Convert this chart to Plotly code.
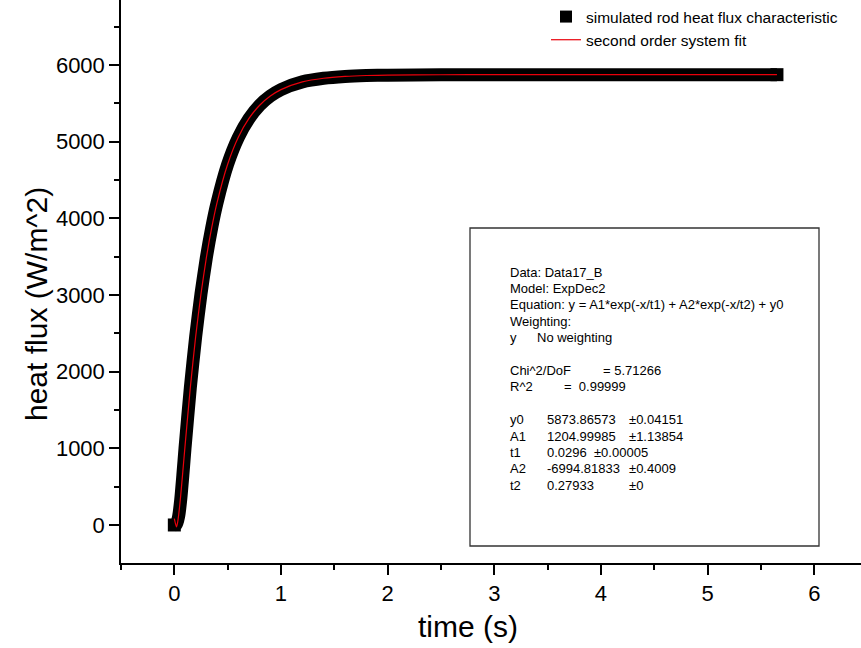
import plotly.graph_objects as go

# ---- data ----
time_s = [0.0, 0.02, 0.04, 0.06, 0.08, 0.10, 0.15, 0.20, 0.25, 0.30, 0.35, 0.40,
          0.50, 0.60, 0.70, 0.80, 0.90, 1.00, 1.20, 1.40, 1.60, 1.80, 2.00,
          2.50, 3.00, 4.00, 5.00, 5.65]
heat_flux = [0, 10, 110, 330, 650, 1000, 1790, 2455, 3015, 3485, 3875, 4200,
             4705, 5055, 5300, 5475, 5595, 5680, 5780, 5827, 5851, 5863, 5868,
             5873, 5874, 5874, 5874, 5874]

fit_time = [0.0, 0.02, 0.03, 0.04, 0.05, 0.06, 0.08, 0.10, 0.15, 0.20, 0.25, 0.30,
            0.35, 0.40, 0.50, 0.60, 0.70, 0.80, 0.90, 1.00, 1.20, 1.40, 1.60,
            1.80, 2.00, 2.50, 3.00, 4.00, 5.00, 5.65]
fit_flux = [84, -25, 28, 124, 247, 390, 702, 1025, 1793, 2457, 3016, 3484,
            3875, 4203, 4706, 5058, 5303, 5475, 5595, 5679, 5779, 5827, 5851,
            5863, 5868, 5873, 5874, 5874, 5874, 5874]

x_ticks = [0, 1, 2, 3, 4, 5, 6]
y_ticks = [0, 1000, 2000, 3000, 4000, 5000, 6000]

data_name = "simulated rod heat flux characteristic"
fit_name = "second order system fit"
x_title = "time (s)"
y_title = "heat flux (W/m^2)"

# fit report text rows
report_rows = [
    ["Data: Data17_B"],
    ["Model: ExpDec2"],
    ["Equation: y = A1*exp(-x/t1) + A2*exp(-x/t2) + y0"],
    ["Weighting:"],
    ["y", "No weighting"],
    ["Chi^2/DoF", "= 5.71266"],
    ["R^2", "=  0.99999"],
    ["y0", "5873.86573", "±0.04151"],
    ["A1", "1204.99985", "±1.13854"],
    ["t1", "0.0296  ±0.00005"],
    ["A2", "-6994.81833", "±0.4009"],
    ["t2", "0.27933", "±0"],
]
report_line = [0, 1, 2, 3, 4, 6, 7, 9, 10, 11, 12, 13]

FONT = "Liberation Sans, Arial, sans-serif"

W, H = 861, 648
ML, MR, MT, MB = 121, 0, 0, 85
PW, PH = W - ML - MR, H - MT - MB


def px_x(p):
    return (p - ML) / PW


def px_y(p):
    return (H - MB - p) / PH


fig = go.Figure()

# simulated data: thick black band of square points
n = len(time_s)
fig.add_trace(go.Scatter(
    x=time_s, y=heat_flux, mode="lines",
    line=dict(color="black", width=13, shape="spline", smoothing=0.6),
    showlegend=False, hoverinfo="skip",
))
fig.add_trace(go.Scatter(
    x=time_s, y=heat_flux, mode="markers",
    marker=dict(symbol="square", color="black", opacity=1,
                line=dict(width=0, color="black"),
                size=[13] + [8] * (n - 2) + [13]),
    showlegend=False, hoverinfo="skip",
))
# legend entry for the simulated data
fig.add_trace(go.Scatter(
    x=[None], y=[None], mode="markers", name=data_name,
    marker=dict(symbol="square", size=12, color="black", line=dict(width=0)),
))
fig.add_trace(go.Scatter(
    x=fit_time, y=fit_flux, mode="lines", name=fit_name,
    line=dict(color="#e8000b", width=1.2, shape="spline", smoothing=0.6),
))

# fit report box
fig.add_shape(type="rect", xref="paper", yref="paper",
              x0=px_x(470), x1=px_x(819), y0=px_y(546), y1=px_y(228),
              line=dict(color="#333333", width=1.3), fillcolor="rgba(0,0,0,0)")

LX, VX, EX = 508, 545, 627
for row, k in zip(report_rows, report_line):
    ypx = 272 + 16.4 * k
    label = row[0]
    if len(row) == 1:
        xs = [LX]
    elif label == "y":
        xs = [LX, 535]
    elif label == "Chi^2/DoF":
        xs = [LX, 601]
    elif label == "R^2":
        xs = [LX, 562]
    else:
        xs = [LX, VX, EX]
    for txt, xp in zip(row, xs):
        fig.add_annotation(
            x=px_x(xp), y=px_y(ypx), xref="paper", yref="paper",
            text=txt, showarrow=False, xanchor="left", yanchor="middle",
            font=dict(family=FONT, size=13, color="black"),
        )

# axis titles (placed like the reference)
fig.add_annotation(x=px_x(468), y=px_y(626), xref="paper", yref="paper",
                   text=x_title, showarrow=False, xanchor="center", yanchor="middle",
                   font=dict(family=FONT, size=30, color="black"))
fig.add_annotation(x=px_x(36), y=px_y(304), xref="paper", yref="paper",
                   text=y_title, showarrow=False, textangle=-90,
                   xanchor="center", yanchor="middle",
                   font=dict(family=FONT, size=30, color="black"))

axis_common = dict(
    showline=True, linecolor="black", linewidth=1.5, mirror=False,
    showgrid=False, zeroline=False, automargin=False,
    ticks="outside", ticklen=10, tickwidth=1.5, tickcolor="black",
    tickfont=dict(family=FONT, size=22, color="black"),
)

fig.update_layout(
    width=W, height=H,
    margin=dict(l=ML, r=MR, t=MT, b=MB),
    paper_bgcolor="white", plot_bgcolor="white",
    font=dict(family=FONT, color="black"),
    xaxis=dict(
        range=[-0.5, 6.438], tickvals=x_ticks,
        minor=dict(dtick=0.5, tick0=0, ticks="outside", ticklen=5,
                   tickwidth=1.5, tickcolor="black"),
        **axis_common,
    ),
    yaxis=dict(
        range=[-496, 6848], tickvals=y_ticks,
        minor=dict(dtick=500, tick0=0, ticks="outside", ticklen=5,
                   tickwidth=1.5, tickcolor="black"),
        **axis_common,
    ),
    legend=dict(
        x=px_x(546), y=1.0, xanchor="left", yanchor="top",
        bgcolor="rgba(0,0,0,0)", font=dict(family=FONT, size=15.5, color="black"),
        tracegroupgap=0,
    ),
)

fig.write_html("out.html", config={"displayModeBar": False},
               post_script="document.body.style.margin='0';document.body.style.padding='0';")
